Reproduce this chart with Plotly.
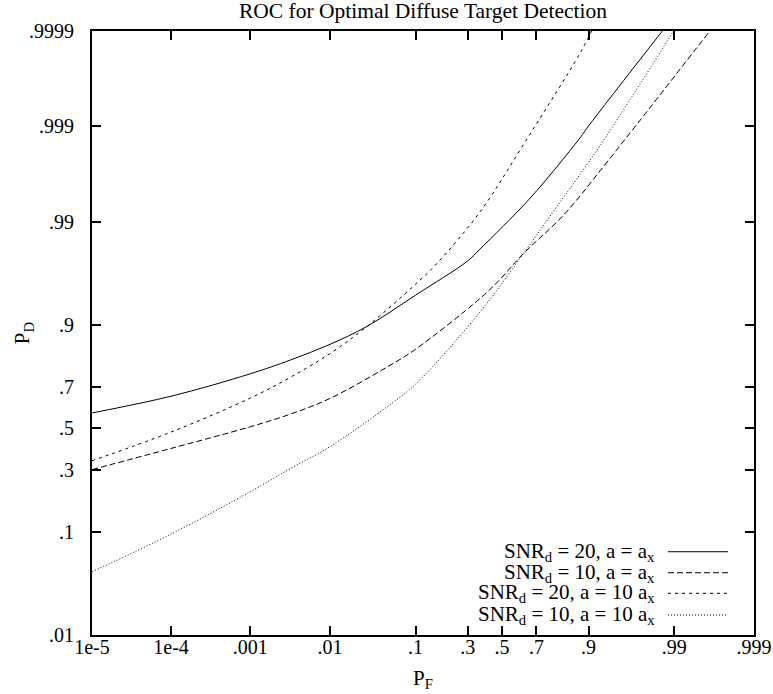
import numpy as np
import plotly.graph_objects as go

# ---- data (PF, PD pairs) ----
pf_snr20_ax = [1e-5, 1e-4, 1e-3, 3.2e-3, 1e-2, 2.85e-2, 0.1, 0.3, 0.368, 0.666, 0.873, 0.9, 0.986]
pd_snr20_ax = [0.578, 0.659, 0.755, 0.805, 0.853, 0.8965, 0.946, 0.975, 0.981, 0.9943, 0.9986, 0.999, 0.9999]

pf_snr10_ax = [1e-5, 1e-4, 1e-3, 3.2e-3, 1e-2, 0.0525, 0.1, 0.368, 0.488, 0.628, 0.822, 0.939, 0.9964]
pd_snr10_ax = [0.300, 0.399, 0.508, 0.572, 0.6485, 0.787, 0.839, 0.942, 0.962, 0.9789, 0.9914, 0.9977, 0.9999]

pf_snr20_10ax = [1e-5, 1e-4, 1e-3, 3.2e-3, 1e-2, 2.85e-2, 0.1, 0.163, 0.368, 0.637, 0.878, 0.907]
pd_snr20_10ax = [0.340, 0.481, 0.650, 0.741, 0.826, 0.8965, 0.9576, 0.9734, 0.9921, 0.99852, 0.99983, 0.9999]

pf_snr10_10ax = [1e-5, 1e-4, 1e-3, 3.2e-3, 1e-2, 0.0525, 0.1, 0.368, 0.628, 0.796, 0.925, 0.9898]
pd_snr10_10ax = [0.0431, 0.0963, 0.2117, 0.3043, 0.4076, 0.619, 0.7127, 0.9227, 0.9789, 0.9930, 0.9984, 0.9999]

x_ticks = [1e-5, 1e-4, 0.001, 0.01, 0.1, 0.3, 0.5, 0.7, 0.9, 0.99, 0.999]
x_tick_labels = ["1e-5", "1e-4", ".001", ".01", ".1", ".3", ".5", ".7", ".9", ".99", ".999"]
y_ticks = [0.01, 0.1, 0.3, 0.5, 0.7, 0.9, 0.99, 0.999, 0.9999]
y_tick_labels = [".01", ".1", ".3", ".5", ".7", ".9", ".99", ".999", ".9999"]

legend_labels = [
    "SNR<sub>d</sub> = 20, a = a<sub>x</sub>",
    "SNR<sub>d</sub> = 10, a = a<sub>x</sub>",
    "SNR<sub>d</sub> = 20, a = 10 a<sub>x</sub>",
    "SNR<sub>d</sub> = 10, a = 10 a<sub>x</sub>",
]


# probability-paper scale (log-odds, slightly stretched near the middle)
def T(p):
    p = np.asarray(p, dtype=float)
    L = np.log10(p / (1.0 - p))
    return L + 0.19 * np.tanh(L)


FONT = "Liberation Serif"

series = [
    (pf_snr20_ax, pd_snr20_ax, "solid"),
    (pf_snr10_ax, pd_snr10_ax, "6px,3px"),
    (pf_snr20_10ax, pd_snr20_10ax, "3px,4px"),
    (pf_snr10_10ax, pd_snr10_10ax, "1px,2px"),
]

fig = go.Figure()
for (pf, pdv, dash), name in zip(series, legend_labels):
    fig.add_trace(go.Scatter(
        x=T(pf), y=T(pdv), mode="lines", name=name,
        line=dict(color="black", width=1, dash=dash, shape="spline", smoothing=1.0),
        showlegend=False, hoverinfo="skip",
    ))

axis_common = dict(
    showgrid=False, zeroline=False, showline=True, linecolor="black", linewidth=2,
    mirror="allticks", ticks="inside", ticklen=9, tickwidth=1.5, tickcolor="black",
    tickfont=dict(family=FONT, size=20, color="black"), automargin=False,
)

fig.update_xaxes(range=[float(T(1e-5)), float(T(0.999))], tickmode="array",
                 tickvals=T(x_ticks), ticktext=x_tick_labels, **axis_common)
fig.update_yaxes(range=[float(T(0.01)), float(T(0.9999))], tickmode="array",
                 tickvals=T(y_ticks), ticktext=y_tick_labels, ticklabelstandoff=12,
                 **axis_common)
try:
    fig.update_xaxes(ticklabelstandoff=-7)
except Exception:
    pass

annotations = [
    dict(text="P<sub>F</sub>", x=0.5, y=-0.073, xref="paper", yref="paper",
         showarrow=False, xanchor="center", yanchor="middle",
         font=dict(family=FONT, size=21, color="black")),
    dict(text="P<sub>D</sub>", x=-0.104, y=0.5, xref="paper", yref="paper",
         showarrow=False, xanchor="center", yanchor="middle", textangle=-90,
         font=dict(family=FONT, size=21, color="black")),
]

# legend (gnuplot style: right-aligned text, sample to its right)
legend_y_px = [551.7, 572.7, 593.3, 615.0]
shapes = []
for (pf, pdv, dash), label, ypx in zip(series, legend_labels, legend_y_px):
    yp = (635 - ypx) / 604.3
    annotations.append(dict(text=label, x=(657 - 92) / 662, y=yp, xref="paper", yref="paper",
                            showarrow=False, xanchor="right", yanchor="middle",
                            font=dict(family=FONT, size=21, color="black")))
    shapes.append(dict(type="line", xref="paper", yref="paper",
                       x0=(668 - 92) / 662, x1=(728 - 92) / 662, y0=yp, y1=yp,
                       line=dict(color="black", width=1, dash=dash)))

fig.update_layout(
    width=773, height=694,
    margin=dict(l=92, r=19, t=31, b=59),
    paper_bgcolor="white", plot_bgcolor="white",
    title=dict(text="ROC for Optimal Diffuse Target Detection", x=(423 / 773), xanchor="center",
               y=1 - 10 / 694, yanchor="middle", yref="container",
               font=dict(family=FONT, size=21.5, color="black")),
    annotations=annotations, shapes=shapes,
    showlegend=False,
)

fig.write_html("out.html", config={"displayModeBar": False},
               post_script="document.body.style.margin='0px';")
